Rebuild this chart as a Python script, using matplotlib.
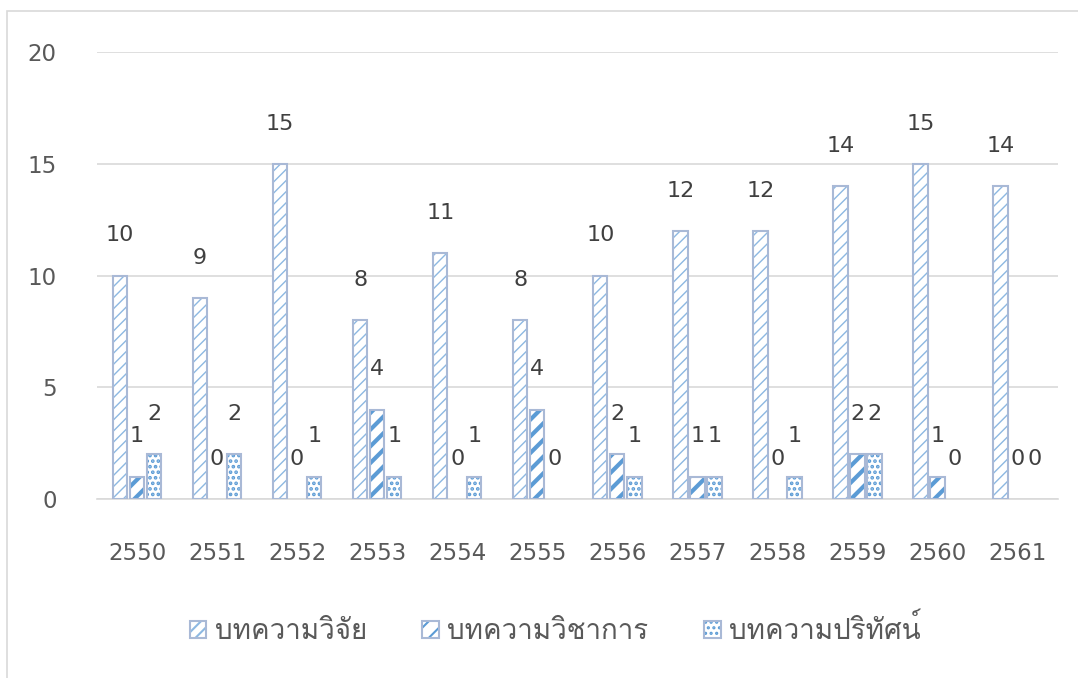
import numpy as np
import matplotlib
matplotlib.use("Agg")
import matplotlib.pyplot as plt
from matplotlib import font_manager
from matplotlib.ft2font import FT2Font
from matplotlib.patches import Rectangle
from matplotlib.legend_handler import HandlerPatch

# ข้อมูล
years = ['2550', '2551', '2552', '2553', '2554', '2555',
         '2556', '2557', '2558', '2559', '2560', '2561']
research = [10, 9, 15, 8, 11, 8, 10, 12, 12, 14, 15, 14]
academic = [1, 0, 0, 4, 0, 4, 2, 1, 0, 2, 1, 0]
review = [2, 2, 1, 1, 1, 0, 1, 1, 1, 2, 0, 0]
series_names = ['บทความวิจัย', 'บทความวิชาการ', 'บทความปริทัศน์']


def buscar_fuente_thai():
    # busca una fuente instalada que tenga el caracter thai 'บ'
    for f in font_manager.fontManager.ttflist:
        try:
            if 0x0E1A in FT2Font(f.fname).get_charmap():
                return f.name
        except Exception:
            pass
    return None


thai = buscar_fuente_thai()
fams = ['DejaVu Sans'] if thai is None else [thai, 'DejaVu Sans']
plt.rcParams['font.family'] = ['DejaVu Sans']

txt_color = '#595959'
edge = '#A9B9D6'

fig = plt.figure(figsize=(10.78, 6.78), dpi=100)
ax = fig.add_axes([0.09, 0.264, 0.891, 0.659])

x = np.arange(len(years))
w = 0.18
step = 0.2125

# (hatch, grosor de hatch, color de hatch)
estilos = [('///', 1.0, '#8DB8E2'), ('//', 3.0, '#5B9BD5'), ('...', 1.8, '#5B9BD5')]
datos = [research, academic, review]
handles = []
for i, (vals, (h, lw, hc)) in enumerate(zip(datos, estilos)):
    pos = x + (i - 1) * step
    # relleno con trama (el color del hatch sale del edgecolor)
    with plt.rc_context({'hatch.linewidth': lw}):
        ax.bar(pos, vals, w, facecolor='white', edgecolor=hc, linewidth=0,
               hatch=h, zorder=3)
        handle = plt.Rectangle((0, 0), 1, 1, facecolor='white', edgecolor=hc,
                               hatch=h, linewidth=0)
    # borde
    lws = [1.5 if v > 0 else 0 for v in vals]
    ax.bar(pos, vals, w, fill=False, edgecolor=edge, linewidth=lws, zorder=4)
    handles.append(handle)
    for xi, v in zip(pos, vals):
        ax.annotate(str(v), (xi, v), xytext=(0, 29), textcoords='offset points',
                    ha='center', va='center', fontsize=16, color='#404040')

ax.set_xlim(-0.5, len(years) - 0.5)
ax.set_ylim(0, 20)
ax.set_yticks([0, 5, 10, 15, 20])
ax.set_xticks(x)
ax.set_xticklabels(years)
ax.tick_params(length=0, labelsize=16.5, labelcolor=txt_color)
ax.tick_params(axis='y', pad=29)
ax.tick_params(axis='x', pad=31)
ax.grid(axis='y', color='#D9D9D9', linewidth=1.2, zorder=0)
for s in ['top', 'right', 'left']:
    ax.spines[s].set_visible(False)
ax.spines['bottom'].set_color('#D9D9D9')
ax.spines['bottom'].set_linewidth(1.2)


class HandlerBorde(HandlerPatch):
    def create_artists(self, legend, orig, xd, yd, width, height, fontsize, trans):
        p = plt.Rectangle((-xd, -yd), width, height, facecolor='white',
                          edgecolor=orig.get_edgecolor(), hatch=orig.get_hatch(),
                          linewidth=0, transform=trans)
        b = plt.Rectangle((-xd, -yd), width, height, fill=False,
                          edgecolor=edge, linewidth=1.5, transform=trans)
        return [p, b]


with plt.rc_context({'hatch.linewidth': 1.5}):
    leg = fig.legend(handles, series_names, loc='center',
                     bbox_to_anchor=(0.515, 0.071), ncol=3,
                     frameon=False, prop={'family': fams, 'size': 20},
                     handlelength=0.6, handleheight=0.6, columnspacing=2.0,
                     handletextpad=0.3,
                     handler_map={plt.Rectangle: HandlerBorde()})
for t in leg.get_texts():
    t.set_color(txt_color)

# marco del grafico
fig.patches.append(Rectangle((7 / 1078, -0.1), 1.2, 1 - 11 / 678 + 0.1,
                             transform=fig.transFigure, fill=False,
                             edgecolor='#D9D9D9', linewidth=1.2))

fig.savefig('out.png', dpi=100)
